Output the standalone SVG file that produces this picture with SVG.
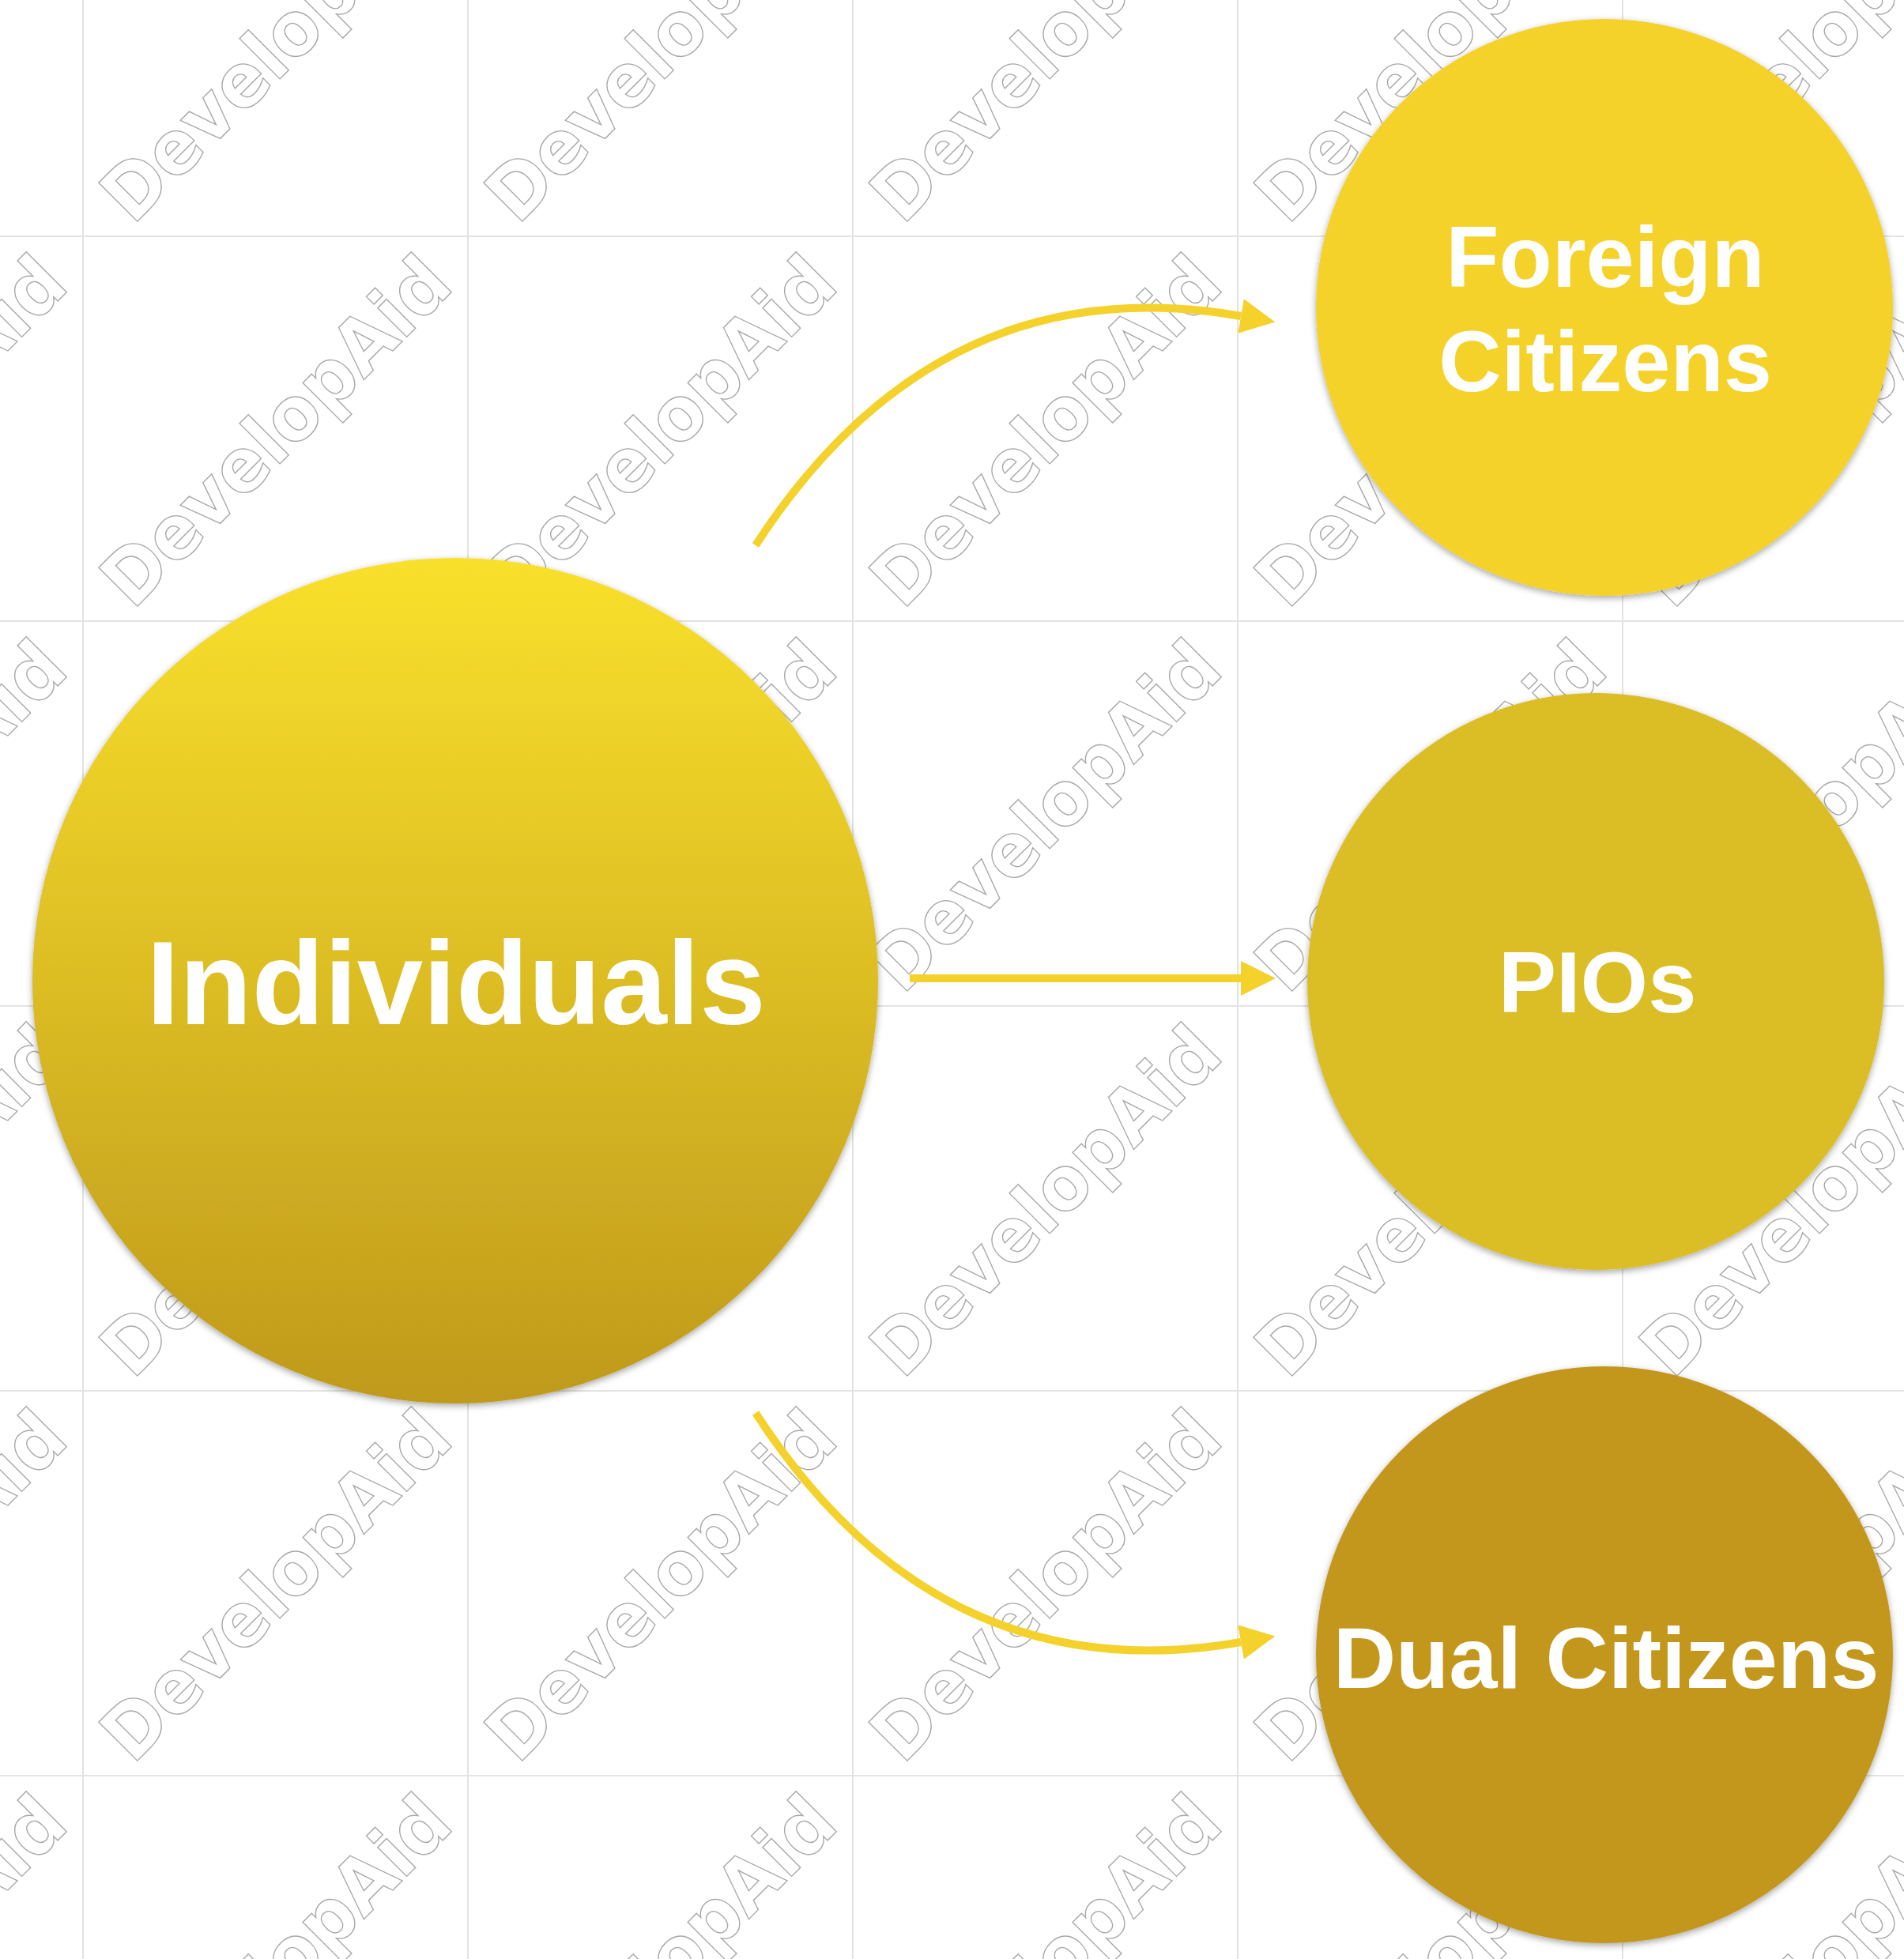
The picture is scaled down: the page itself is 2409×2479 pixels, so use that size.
<svg xmlns="http://www.w3.org/2000/svg" xmlns:xlink="http://www.w3.org/1999/xlink" width="2409" height="2479" viewBox="0 0 2409 2479">
  <style>
    .wm { font-family: "DejaVu Sans", "Liberation Sans", Arial, sans-serif; font-weight: bold; font-size: 95px; fill: #ffffff; stroke: #a8a8a8; stroke-width: 1.4; }
    .grid { stroke: #e3e3e3; stroke-width: 2; }
    .label { font-family: "Liberation Sans", Arial, Helvetica, sans-serif; font-weight: bold; fill: #ffffff; text-anchor: middle; }
    .conn { fill: none; stroke: #F4D22B; stroke-width: 10; }
  </style>
  <defs>
    <pattern id="bg" patternUnits="userSpaceOnUse" x="104" y="298" width="487" height="487">
      <rect width="487" height="487" fill="#ffffff"/>
      <line class="grid" x1="1" y1="0" x2="1" y2="487"/>
      <line class="grid" x1="0" y1="1" x2="487" y2="1"/>
      <text class="wm" transform="translate(64,475) rotate(-45)" x="0" y="0" textLength="578" lengthAdjust="spacingAndGlyphs">DevelopAid</text>
    </pattern>
    <linearGradient id="gInd" x1="0" y1="0" x2="0" y2="1">
      <stop offset="0" stop-color="#F9E02C"/>
      <stop offset="1" stop-color="#BF9A1C"/>
    </linearGradient>
    <filter id="sh" x="-10%" y="-10%" width="120%" height="125%">
      <feDropShadow dx="0" dy="3" stdDeviation="4" flood-color="#000000" flood-opacity="0.35"/>
    </filter>
    <marker id="ah" markerUnits="userSpaceOnUse" markerWidth="44" markerHeight="44" refX="0" refY="22" orient="auto">
      <path d="M0,0 L44,22 L0,44 z" fill="#F4D22B"/>
    </marker>
  </defs>

  <rect id="background" x="0" y="0" width="2409" height="2479" fill="url(#bg)"/>

  <g id="connectors">
    <path class="conn" d="M956,690 Q1188,333 1570,400" marker-end="url(#ah)"/>
    <path class="conn" d="M1151,1238 L1570,1238" marker-end="url(#ah)"/>
    <path class="conn" d="M956,1788 Q1188,2145 1570,2078" marker-end="url(#ah)"/>
  </g>

  <g id="node-individuals">
    <circle cx="576" cy="1241" r="535" fill="url(#gInd)" filter="url(#sh)"/>
    <text class="label" x="577" y="1296" font-size="150">Individuals</text>
  </g>

  <g id="node-foreign-citizens">
    <circle cx="2030" cy="389" r="365" fill="#F4D22B" filter="url(#sh)"/>
    <text class="label" x="2031" y="363" font-size="110">Foreign</text>
    <text class="label" x="2031" y="495" font-size="110">Citizens</text>
  </g>

  <g id="node-pios">
    <circle cx="2019" cy="1242" r="365" fill="#DBBE25" filter="url(#sh)"/>
    <text class="label" x="2021" y="1281" font-size="110">PIOs</text>
  </g>

  <g id="node-dual-citizens">
    <circle cx="2030" cy="2094" r="365" fill="#C2971C" filter="url(#sh)"/>
    <text class="label" x="2032" y="2136" font-size="110">Dual Citizens</text>
  </g>
</svg>
